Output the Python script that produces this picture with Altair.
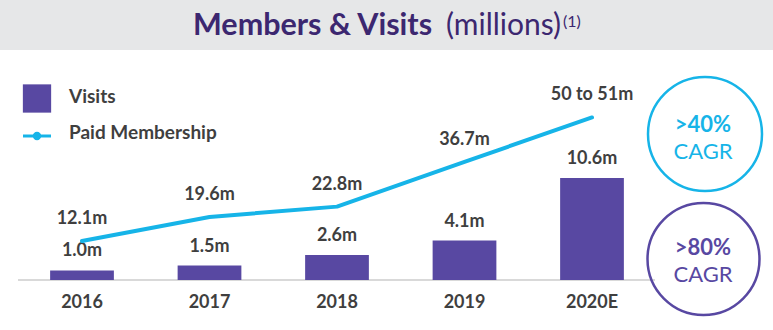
import altair as alt
import pandas as pd

# ---- data ----
years = ["2016", "2017", "2018", "2019", "2020E"]
visits = [1.0, 1.5, 2.6, 4.1, 10.6]
visit_labels = ["1.0m", "1.5m", "2.6m", "4.1m", "10.6m"]
members = [12.1, 19.6, 22.8, 36.7, 50.5]
member_labels = ["12.1m", "19.6m", "22.8m", "36.7m", "50 to 51m"]

df = pd.DataFrame({
    "Year": years,
    "Visits": visits,
    "VisitLabel": visit_labels,
    "Members": members,
    "MemberLabel": member_labels,
})
one = pd.DataFrame({"k": [0]})

FONT = "Lato"
PURPLE = "#5848A2"
CYAN = "#16B4E8"
TITLE_C = "#3C2770"
LABEL_C = "#3f3f3f"

x_enc = alt.X(
    "Year:N",
    sort=years,
    scale=alt.Scale(domain=years, range=[18.25, 655.75], paddingInner=0.5, paddingOuter=0.25),
    axis=alt.Axis(
        title=None, domain=False, ticks=False, labelAngle=0,
        labelFont=FONT, labelFontSize=18, labelFontWeight="bold",
        labelColor=LABEL_C, labelPadding=13,
    ),
)
y_bar = alt.Y("Visits:Q", scale=alt.Scale(domain=[0, 29.1], nice=False, zero=True), axis=None)
y_line = alt.Y("Members:Q", scale=alt.Scale(domain=[0, 87], nice=False, zero=True), axis=None)

base = alt.Chart(df)

# title band
band = alt.Chart(one).mark_rect(color="#E6E7E8").encode(
    x=alt.value(0), x2=alt.value(773), y=alt.value(0), y2=alt.value(50)
)
t1 = alt.Chart(one).mark_text(
    font=FONT, fontSize=30.5, fontWeight="bold", color=TITLE_C, align="left", baseline="alphabetic"
).encode(x=alt.value(193), y=alt.value(35), text=alt.value("Members & Visits"))
t2 = alt.Chart(one).mark_text(
    font=FONT, fontSize=30, fontWeight="normal", color=TITLE_C, align="left", baseline="alphabetic"
).encode(x=alt.value(446), y=alt.value(35), text=alt.value("(millions)"))
t3 = alt.Chart(one).mark_text(
    font=FONT, fontSize=16, fontWeight="normal", color=TITLE_C, align="left", baseline="alphabetic"
).encode(x=alt.value(563), y=alt.value(27), text=alt.value("(1)"))

# baseline
baseline = alt.Chart(one).mark_rule(color="#D9D9D9", strokeWidth=2).encode(
    x=alt.value(18), x2=alt.value(655), y=alt.value(280)
)

bars = base.mark_bar(color=PURPLE).encode(x=x_enc, y=y_bar)
bar_text = base.mark_text(
    font=FONT, fontSize=18, fontWeight="bold", color=LABEL_C, baseline="middle", dy=-19
).encode(x=x_enc, y=y_bar, text="VisitLabel:N")

line = base.mark_line(color=CYAN, strokeWidth=4, strokeCap="round", strokeJoin="round").encode(
    x=x_enc, y=y_line
)
line_text = base.mark_text(
    font=FONT, fontSize=18, fontWeight="bold", color=LABEL_C, baseline="middle", dy=-22
).encode(x=x_enc, y=y_line, text="MemberLabel:N")

# legend
leg_sq = alt.Chart(one).mark_square(color=PURPLE, opacity=1, size=800).encode(
    x=alt.value(37), y=alt.value(98.5)
)
leg_line = alt.Chart(one).mark_rule(color=CYAN, strokeWidth=3).encode(
    x=alt.value(23), x2=alt.value(51), y=alt.value(136)
)
leg_dot = alt.Chart(one).mark_circle(color=CYAN, opacity=1, size=70).encode(
    x=alt.value(37), y=alt.value(136)
)
leg_t1 = alt.Chart(one).mark_text(
    font=FONT, fontSize=19, fontWeight="bold", color=LABEL_C, align="left", baseline="middle"
).encode(x=alt.value(69), y=alt.value(97), text=alt.value("Visits"))
leg_t2 = alt.Chart(one).mark_text(
    font=FONT, fontSize=19, fontWeight="bold", color=LABEL_C, align="left", baseline="middle"
).encode(x=alt.value(69), y=alt.value(133), text=alt.value("Paid Membership"))

# CAGR circles
c1 = alt.Chart(one).mark_point(shape="circle", filled=False, color=CYAN, strokeWidth=2.5, size=12996, opacity=1).encode(
    x=alt.value(705), y=alt.value(134)
)
c1a = alt.Chart(one).mark_text(font=FONT, fontSize=22, fontWeight="bold", color=CYAN, baseline="middle").encode(
    x=alt.value(703), y=alt.value(125), text=alt.value(">40%")
)
c1b = alt.Chart(one).mark_text(font=FONT, fontSize=22, fontWeight="normal", color=CYAN, baseline="middle").encode(
    x=alt.value(703), y=alt.value(152), text=alt.value("CAGR")
)
c2 = alt.Chart(one).mark_point(shape="circle", filled=False, color=PURPLE, strokeWidth=2.5, size=12544, opacity=1).encode(
    x=alt.value(703.5), y=alt.value(259)
)
c2a = alt.Chart(one).mark_text(font=FONT, fontSize=22, fontWeight="bold", color=PURPLE, baseline="middle").encode(
    x=alt.value(703), y=alt.value(248), text=alt.value(">80%")
)
c2b = alt.Chart(one).mark_text(font=FONT, fontSize=22, fontWeight="normal", color=PURPLE, baseline="middle").encode(
    x=alt.value(703), y=alt.value(275), text=alt.value("CAGR")
)

chart = alt.layer(
    band, t1, t2, t3, baseline, bars, bar_text, line, line_text,
    leg_sq, leg_line, leg_dot, leg_t1, leg_t2,
    c1, c1a, c1b, c2, c2a, c2b,
).resolve_scale(y="independent").properties(
    width=773, height=280,
    autosize=alt.AutoSizeParams(type="none"),
    padding={"left": 0, "top": 0, "right": 0, "bottom": 50},
    background="white",
).configure_view(stroke=None).configure_axis(grid=False)

chart.save("out.html", embed_options={"renderer": "svg", "actions": False})
